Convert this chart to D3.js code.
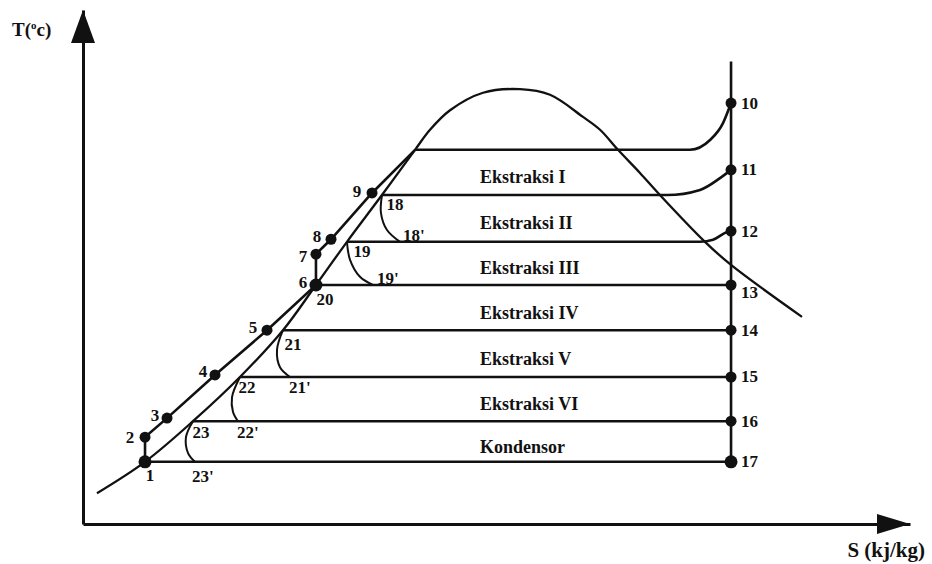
<!DOCTYPE html>
<html>
<head>
<meta charset="utf-8">
<script src="https://cdn.jsdelivr.net/npm/d3@7"></script>
<style>
  body { margin: 0; background: #fff; }
  text { font-family: "Liberation Serif", "Times New Roman", serif; font-weight: bold; fill: #111; }
</style>
</head>
<body>
<div id="chart"></div>
<script>
// T-S diagram, regenerative rankine cycle with 6 extractions

// saturation dome (liquid line then vapour line)
var domeS = [0.169, 0.750, 1.330, 1.898, 2.418, 2.817, 3.192, 3.615, 4.015, 4.196, 4.438, 4.837, 5.284, 5.647, 6.046, 6.252, 6.469, 6.735, 6.977, 7.521, 7.836, 8.694];
var domeT = [6.0, 12.1, 20.0, 28.6, 37.7, 46.5, 54.9, 64.0, 72.8, 76.7, 80.5, 83.9, 84.6, 83.5, 79.2, 76.7, 72.8, 68.3, 64.0, 54.9, 50.4, 40.3];

// feedwater path, points 1 - 9 (then up to the top of the dome)
var pumpNames = ["1", "2", "3", "4", "5", "6", "7", "8", "9"];
var pumpS = [0.750, 0.750, 1.016, 1.596, 2.225, 2.817, 2.817, 2.999, 3.495];
var pumpT = [12.1, 16.9, 20.6, 29.0, 37.7, 46.5, 52.5, 55.4, 64.4];

// turbine expansion, points 10 - 17
var turbineNames = ["10", "11", "12", "13", "14", "15", "16", "17"];
var turbineS = 7.836;
var turbineT = [81.9, 68.9, 57.0, 46.5, 37.7, 28.6, 20.0, 12.1];
var turbineTopT = 90;

// pressure levels (horizontal lines)
var levelT = [72.8, 64.0, 54.9, 46.5, 37.7, 28.6, 20.0, 12.1];
var levelStartS = [4.015, 3.615, 3.192, 2.817, 2.418, 1.898, 1.330, 0.750];
// superheated bends up to 10, 11, 12
var bendS = [[7.340, 7.582, 7.739], [7.062, 7.461, 7.703], [7.461, 7.618, 7.787]];
var bendT = [[72.8, 74.7, 78.0], [64.0, 65.0, 67.3], [54.9, 55.3, 56.8]];

var zoneNames = ["Ekstraksi I", "Ekstraksi II", "Ekstraksi III", "Ekstraksi IV", "Ekstraksi V", "Ekstraksi VI", "Kondensor"];
var zoneS = 4.80;

// subcooled drain arcs 18, 19, 21, 22, 23
var arcNames = ["18", "19", "21", "22", "23"];
var arcS = [[3.615, 3.603, 3.676, 3.833], [3.192, 3.229, 3.349, 3.507], [2.418, 2.346, 2.382, 2.503], [1.898, 1.802, 1.814, 1.874], [1.330, 1.245, 1.270, 1.354]];
var arcT = [[64.0, 60.5, 57.2, 54.9], [54.9, 51.4, 48.1, 46.5], [37.7, 33.9, 30.5, 28.6], [28.6, 24.7, 21.8, 20.0], [20.0, 16.9, 13.8, 12.1]];

// label nudges in px
var pumpLabelOff = [[5, 14], [-15, 0], [-12, -3], [-12, -3], [-14, -3], [-13, -2], [-13, 2], [-14, -3], [-15, -1]];
var arcLabelOff = [[13, 9], [15, 10], [10, 14], [7, 11], [8, 11]];
var arcEndLabelOff = [[3, -6], [4, -6], [-1, 11], [-1, 11], [-3, 15]];

var svgWidth = 932;
var svgHeight = 564;

var svg = d3.select("#chart")
  .append("svg")
  .attr("width", svgWidth)
  .attr("height", svgHeight);

var xScale = d3.scaleLinear().domain([0, 10]).range([83, 910]);
var yScale = d3.scaleLinear().domain([0, 100]).range([524, 10]);

// axes (no ticks, just the lines + arrow heads)
var x0 = xScale(0), y0 = yScale(0), xEnd = xScale(10), yEnd = yScale(100);

svg.append("g")
  .attr("transform", `translate(0, ${y0})`)
  .call(d3.axisBottom(xScale).ticks(0).tickSize(0))
  .select(".domain")
  .attr("stroke", "#111")
  .attr("stroke-width", 3);

svg.append("g")
  .attr("transform", `translate(${x0}, 0)`)
  .call(d3.axisLeft(yScale).ticks(0).tickSize(0))
  .select(".domain")
  .attr("stroke", "#111")
  .attr("stroke-width", 3);

svg.append("path")
  .attr("d", `M${xEnd},${y0} L${xEnd - 33},${y0 - 10} L${xEnd - 33},${y0 + 10} Z`)
  .attr("fill", "#111");

svg.append("path")
  .attr("d", `M${x0},${yEnd} L${x0 - 12},${yEnd + 33} L${x0 + 12},${yEnd + 33} Z`)
  .attr("fill", "#111");

var tLabel = svg.append("text")
  .attr("x", 12)
  .attr("y", 36)
  .attr("font-size", "19px");
tLabel.append("tspan").text("T(");
tLabel.append("tspan").attr("font-size", "11px").attr("dy", -7).text("o");
tLabel.append("tspan").attr("dy", 7).text("c)");

svg.append("text")
  .attr("x", 925)
  .attr("y", 557)
  .attr("text-anchor", "end")
  .attr("font-size", "21px")
  .text("S (kj/kg)");

var line = d3.line()
  .x(d => xScale(d[0]))
  .y(d => yScale(d[1]));

// saturation dome
svg.append("path")
  .attr("d", line.curve(d3.curveCatmullRom)(domeS.map((s, i) => [s, domeT[i]])))
  .attr("fill", "none")
  .attr("stroke", "#111")
  .attr("stroke-width", 2.3);

// feedwater line 1 -> 9 -> dome top
var pumpPts = pumpS.map((s, i) => [s, pumpT[i]]);
pumpPts.push([levelStartS[0], levelT[0]]);
svg.append("path")
  .attr("d", line.curve(d3.curveLinear)(pumpPts))
  .attr("fill", "none")
  .attr("stroke", "#111")
  .attr("stroke-width", 2.6);

// turbine vertical line
svg.append("path")
  .attr("d", line.curve(d3.curveLinear)([[turbineS, turbineTopT], [turbineS, turbineT[7]]]))
  .attr("fill", "none")
  .attr("stroke", "#111")
  .attr("stroke-width", 2.6);

// pressure levels
levelT.forEach(function(t, i) {
  var pts = [[levelStartS[i], t]];
  if (i < bendS.length) {
    bendS[i].forEach((s, j) => pts.push([s, bendT[i][j]]));
  }
  pts.push([turbineS, turbineT[i]]);
  svg.append("path")
    .attr("d", line.curve(d3.curveMonotoneX)(pts))
    .attr("fill", "none")
    .attr("stroke", "#111")
    .attr("stroke-width", 2.6);
});

// drain arcs
arcNames.forEach(function(name, i) {
  var pts = arcS[i].map((s, j) => [s, arcT[i][j]]);
  svg.append("path")
    .attr("d", line.curve(d3.curveCatmullRom)(pts))
    .attr("fill", "none")
    .attr("stroke", "#111")
    .attr("stroke-width", 2);

  svg.append("text")
    .attr("x", xScale(arcS[i][0]) + arcLabelOff[i][0])
    .attr("y", yScale(arcT[i][0]) + arcLabelOff[i][1])
    .attr("text-anchor", "middle")
    .attr("dominant-baseline", "central")
    .attr("font-size", "17px")
    .text(name);

  svg.append("text")
    .attr("x", xScale(arcS[i][3]) + arcEndLabelOff[i][0])
    .attr("y", yScale(arcT[i][3]) + arcEndLabelOff[i][1])
    .attr("dominant-baseline", "central")
    .attr("font-size", "17px")
    .text(name + "'");
});

// zone labels between levels
zoneNames.forEach(function(name, i) {
  svg.append("text")
    .attr("x", xScale(zoneS))
    .attr("y", (yScale(levelT[i]) + yScale(levelT[i + 1])) / 2 + 5)
    .attr("dominant-baseline", "central")
    .attr("font-size", "18px")
    .text(name);
});

// dots + labels
svg.selectAll(".pumpDot")
  .data(pumpNames)
  .enter()
  .append("circle")
  .attr("cx", (d, i) => xScale(pumpS[i]))
  .attr("cy", (d, i) => yScale(pumpT[i]))
  .attr("r", (d, i) => (i == 0 || i == 5) ? 6.5 : 5.5)
  .attr("fill", "#111");

svg.selectAll(".pumpLabel")
  .data(pumpNames)
  .enter()
  .append("text")
  .attr("x", (d, i) => xScale(pumpS[i]) + pumpLabelOff[i][0])
  .attr("y", (d, i) => yScale(pumpT[i]) + pumpLabelOff[i][1])
  .attr("text-anchor", "middle")
  .attr("dominant-baseline", "central")
  .attr("font-size", "17px")
  .text(d => d);

svg.append("text")
  .attr("x", xScale(pumpS[5]) + 9)
  .attr("y", yScale(pumpT[5]) + 15)
  .attr("text-anchor", "middle")
  .attr("dominant-baseline", "central")
  .attr("font-size", "17px")
  .text("20");

svg.selectAll(".turbDot")
  .data(turbineNames)
  .enter()
  .append("circle")
  .attr("cx", xScale(turbineS))
  .attr("cy", (d, i) => yScale(turbineT[i]))
  .attr("r", (d, i) => i == 7 ? 6.5 : 5.5)
  .attr("fill", "#111");

svg.selectAll(".turbLabel")
  .data(turbineNames)
  .enter()
  .append("text")
  .attr("x", xScale(turbineS) + 10)
  .attr("y", (d, i) => yScale(turbineT[i]) + (d == "13" ? 8 : 0))
  .attr("dominant-baseline", "central")
  .attr("font-size", "17px")
  .text(d => d);
</script>
</body>
</html>
